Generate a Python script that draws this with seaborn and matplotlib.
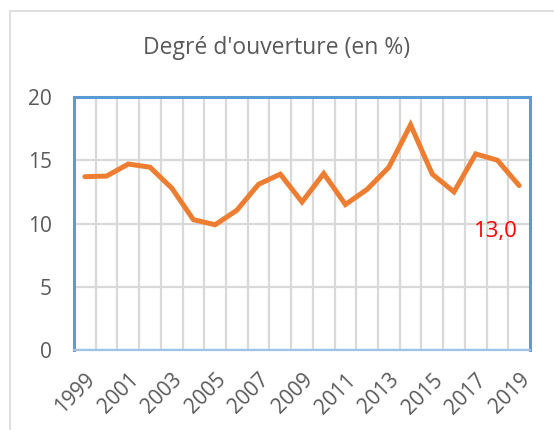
import matplotlib
matplotlib.use("Agg")
import matplotlib.pyplot as plt
import seaborn as sns
import pandas as pd
import numpy as np
from matplotlib.patches import Rectangle

years = list(range(1999, 2020))
values = [13.7, 13.75, 14.7, 14.45, 12.8, 10.3, 9.9, 11.05, 13.1, 13.9, 11.7,
          13.95, 11.5, 12.7, 14.45, 17.8, 13.9, 12.5, 15.5, 15.0, 13.0]
title = "Degré d'ouverture (en %)"
last_label = "13,0"
y_ticks = [0, 5, 10, 15, 20]

sns.set_theme(style="white")
plt.rcParams['font.family'] = ['Open Sans', 'DejaVu Sans']

df = pd.DataFrame({"year": years, "value": values})

fig = plt.figure(figsize=(5.54, 4.30), dpi=100)
ax = fig.add_axes([74/554, 1-350/430, (530-74)/554, (350-97)/430])

# outer chart border
fig.patches.append(Rectangle((10/554, -0.1), 1.2, 1-11/430+0.1, transform=fig.transFigure,
                             fill=False, edgecolor="#D9D9D9", linewidth=1.2))

sns.lineplot(data=df, x="year", y="value", ax=ax, color="#ED7D31", linewidth=3.6,
             solid_joinstyle="miter", zorder=3)

ax.set_xlim(1998.5, 2019.5)
ax.set_ylim(0, 20)
ax.set_yticks(y_ticks)
ax.set_xticks(years[::2])
ax.set_xticks([y + 0.5 for y in years[:-1]], minor=True)
ax.grid(False)
ax.yaxis.grid(True, color="#D9D9D9", linewidth=1.6)
ax.xaxis.grid(True, which="minor", color="#D9D9D9", linewidth=1.6)
ax.set_axisbelow(True)
ax.tick_params(axis="both", which="both", length=0, colors="#595959", labelsize=15)
ax.tick_params(axis="y", pad=16)
ax.tick_params(axis="x", pad=14)
for lab in ax.get_xticklabels():
    lab.set_rotation(45)
    lab.set_ha("right")
    lab.set_va("top")
    lab.set_rotation_mode("anchor")
ax.set_xlabel("")
ax.set_ylabel("")
for s in ["left", "top", "right"]:
    ax.spines[s].set_color("#5B9BD5")
    ax.spines[s].set_linewidth(2.2)
ax.spines["bottom"].set_color("#9DC3E6")
ax.spines["bottom"].set_linewidth(1.6)

ax.annotate(last_label, (years[-1], values[-1]), xytext=(-17, -33), textcoords="offset points",
            ha="center", va="center", color="#FF0000", fontsize=16)

fig.text(0.5, 1-48/430, title, ha="center", va="center", color="#595959", fontsize=16.5)

fig.savefig("out.png", dpi=100)
